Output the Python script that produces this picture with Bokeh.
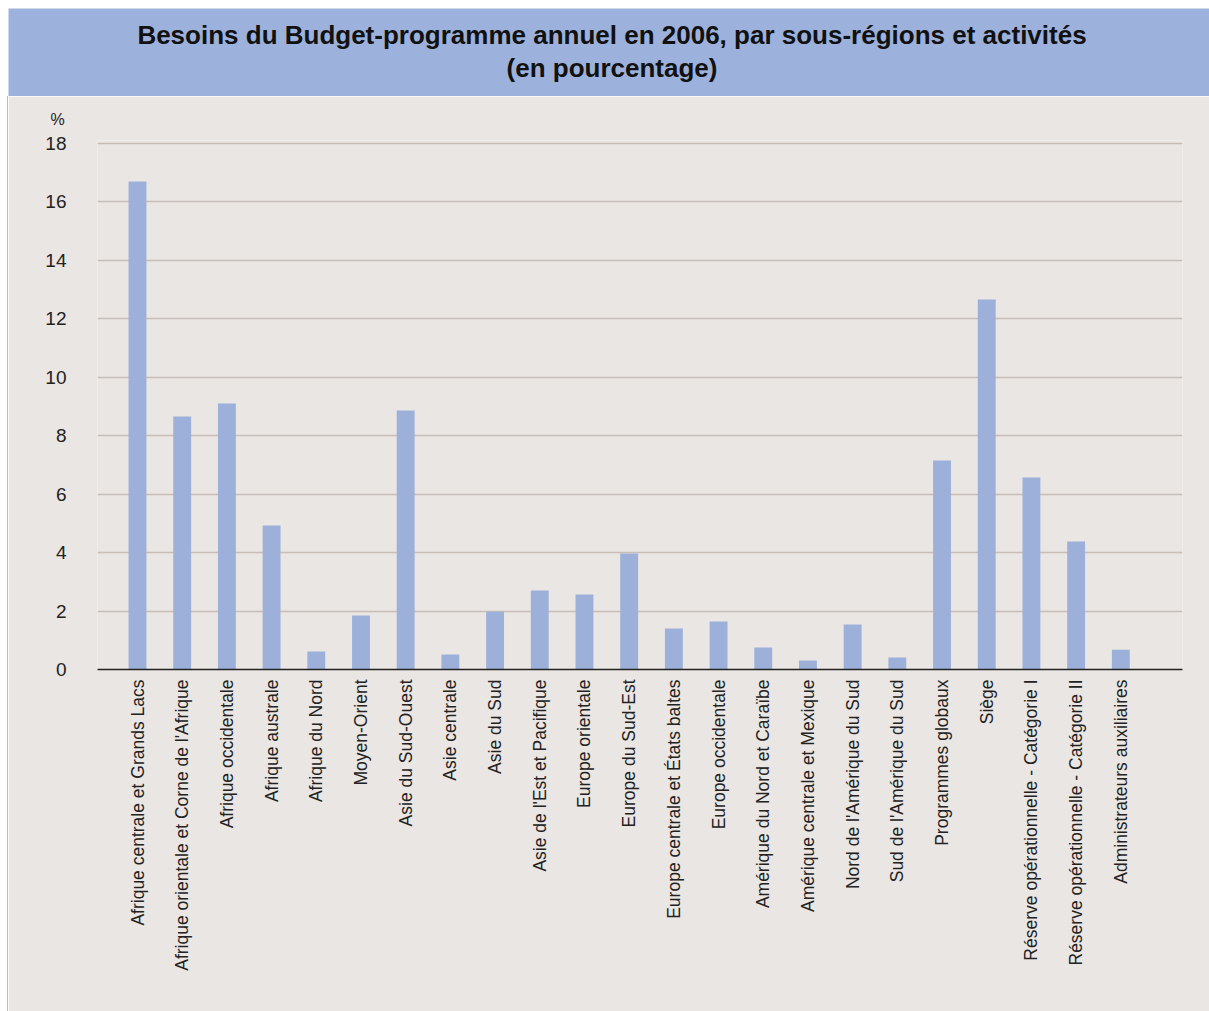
import math
from bokeh.plotting import figure
from bokeh.layouts import column, row
from bokeh.models import Title, Spacer, ColumnDataSource, Range1d
from bokeh.core.properties import value
from bokeh.embed import file_html
from bokeh.resources import INLINE

title_lines = ["Besoins du Budget-programme annuel en 2006, par sous-régions et activités",
               "(en pourcentage)"]

categories = [
    "Afrique centrale et Grands Lacs",
    "Afrique orientale et Corne de l'Afrique",
    "Afrique occidentale",
    "Afrique australe",
    "Afrique du Nord",
    "Moyen-Orient",
    "Asie du Sud-Ouest",
    "Asie centrale",
    "Asie du Sud",
    "Asie de l'Est et Pacifique",
    "Europe orientale",
    "Europe du Sud-Est",
    "Europe centrale et États baltes",
    "Europe occidentale",
    "Amérique du Nord et Caraïbe",
    "Amérique centrale et Mexique",
    "Nord de l'Amérique du Sud",
    "Sud de l'Amérique du Sud",
    "Programmes globaux",
    "Siège",
    "Réserve opérationnelle - Catégorie I",
    "Réserve opérationnelle - Catégorie II",
    "Administrateurs auxiliaires",
]
values = [16.70, 8.66, 9.10, 4.93, 0.62, 1.85, 8.86, 0.51, 1.98, 2.70, 2.57, 3.97,
          1.40, 1.64, 0.75, 0.31, 1.54, 0.41, 7.15, 12.66, 6.57, 4.38, 0.68]
y_ticks = [0, 2, 4, 6, 8, 10, 12, 14, 16, 18]
unit_label = "%"

BG = "#eae6e3"
BAND = "#9cb1dc"
BAR = "#9db0da"
GRID = "#c8bdb7"
FONT = "Liberation Sans"

# ---------- title band ----------
t = figure(width=1209, height=96, output_backend="svg", toolbar_location=None,
           x_range=Range1d(0, 1), y_range=Range1d(0, 1),
           min_border_top=8, min_border_left=8, min_border_right=0, min_border_bottom=0)
t.axis.visible = False
t.grid.visible = False
t.outline_line_color = None
t.background_fill_color = BAND
t.border_fill_color = "white"
t.text(x=[0.5025, 0.5025], y=[0.70, 0.32], text=title_lines,
       text_font=value(FONT), text_font_style="bold", text_font_size="26px",
       text_color="#111111", text_align="center", text_baseline="middle")

# ---------- chart ----------
xs = list(range(len(categories)))
src = ColumnDataSource(dict(x=xs, top=values))
p = figure(width=1201, height=915, output_backend="svg", toolbar_location=None,
           x_range=Range1d(-0.895, 23.38), y_range=Range1d(0, 18.1),
           min_border_top=44, min_border_left=89, min_border_right=27, min_border_bottom=342)
p.background_fill_color = BG
p.border_fill_color = BG
p.outline_line_color = None
p.vbar(x="x", top="top", bottom=0, width=0.40, source=src, fill_color=BAR, line_color=None)

p.xgrid.visible = False
p.ygrid.ticker = y_ticks
p.ygrid.grid_line_color = GRID
p.ygrid.grid_line_width = 1.6

p.yaxis.ticker = y_ticks
p.yaxis.axis_line_color = None
p.yaxis.major_tick_line_color = None
p.yaxis.minor_tick_line_color = None
p.yaxis.major_tick_out = 0
p.yaxis.major_label_standoff = 31
p.yaxis.major_label_text_font = FONT
p.yaxis.major_label_text_font_size = "19px"
p.yaxis.major_label_text_color = "#222222"

p.xaxis.ticker = xs
p.xaxis.major_label_overrides = {i: c for i, c in enumerate(categories)}
p.xaxis.major_label_orientation = math.pi / 2
p.xaxis.axis_line_color = "#222222"
p.xaxis.axis_line_width = 1.6
p.xaxis.major_tick_line_color = None
p.xaxis.minor_tick_line_color = None
p.xaxis.major_tick_out = 0
p.xaxis.major_tick_in = 0
p.xaxis.major_label_standoff = 10
p.xaxis.major_label_text_font = FONT
p.xaxis.major_label_text_font_size = "17.5px"
p.xaxis.major_label_text_color = "#222222"

p.add_layout(Title(text=unit_label, align="left", offset=-47, standoff=25,
                   text_font=FONT, text_font_size="16px", text_font_style="normal",
                   text_color="#222222"), "above")

edge = Spacer(width=8, height=915,
              styles={"background": "linear-gradient(to right, #ffffff 7px, #a9bde3 7px)"})
layout = column(t, row(edge, p), spacing=0)

open("out.html", "w").write(file_html(layout, INLINE))
